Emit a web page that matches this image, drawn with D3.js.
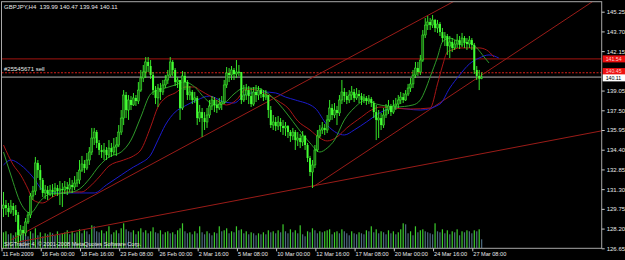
<!DOCTYPE html>
<html>
<head>
<meta charset="utf-8">
<script src="https://cdn.jsdelivr.net/npm/d3@7"></script>
<style>
  body { margin: 0; background: #000; }
  svg { display: block; font-family: "Liberation Sans", Arial, sans-serif; }
</style>
</head>
<body>
<div id="chart"></div>
<script>
// GBPJPY H4, 196 bars from 11 Feb 2009 to 27 Mar 2009 20:00
const firstOpen = 129.80;
const closes = [
  130.05,129.82,129.50,129.97,129.66,129.27,127.69,128.09,127.85,128.72,
  129.27,130.76,131.15,133.36,132.80,132.02,131.00,131.23,130.92,131.23,
  131.08,131.39,131.15,131.31,131.23,131.47,131.31,131.63,131.47,131.78,
  132.02,132.80,133.28,132.96,133.59,134.22,135.32,135.79,134.93,134.38,
  134.22,134.38,133.98,134.53,134.22,134.61,134.77,135.79,136.89,138.70,
  137.52,138.31,137.92,138.47,138.23,139.09,140.04,140.51,141.30,140.98,
  140.27,139.09,138.47,139.25,138.94,139.49,139.88,140.27,141.30,140.67,
  139.72,139.88,137.68,140.20,139.72,138.70,138.94,138.31,138.47,136.89,
  137.36,136.89,136.58,137.13,137.84,138.31,137.92,137.68,137.99,138.15,
  139.49,140.43,140.27,140.67,140.35,140.51,140.51,138.31,138.70,139.09,
  138.62,137.99,138.94,138.70,139.09,138.78,138.54,138.70,137.52,136.34,
  136.58,136.26,136.58,136.26,136.11,136.26,135.79,135.48,135.79,135.16,
  135.32,135.01,135.48,134.77,133.75,132.65,133.20,134.38,135.48,135.95,
  136.11,135.95,136.74,137.68,137.13,137.52,137.29,138.31,138.94,138.62,
  138.31,138.70,138.94,138.47,138.78,138.62,138.31,138.47,138.23,138.39,
  138.07,137.36,136.74,136.89,136.34,137.13,137.52,137.84,137.36,137.84,
  137.99,138.31,138.54,138.31,138.78,139.25,139.57,140.27,140.82,140.51,
  141.45,143.42,144.20,144.44,144.20,144.60,143.97,144.28,143.65,143.18,
  143.34,142.55,142.87,142.40,142.71,143.02,142.63,143.18,142.87,142.71,
  143.02,142.63,140.67,140.20,139.99,140.11
];
const highs = [
  131.08,130.45,130.21,130.45,130.21,130.05,129.50,128.48,128.40,129.03,
  129.50,131.00,131.55,133.83,133.59,133.20,132.18,131.63,131.55,131.63,
  131.70,131.78,131.63,131.94,131.78,131.94,131.86,132.18,132.02,132.33,
  132.65,133.59,133.91,133.59,134.14,134.61,136.11,136.11,135.95,135.16,
  134.77,134.93,134.61,135.16,134.93,135.32,135.40,136.34,137.52,139.09,
  138.94,138.70,138.62,138.86,138.70,139.72,140.67,141.06,141.69,141.69,
  141.45,140.51,139.41,139.57,139.64,139.88,140.27,140.67,141.69,141.45,
  140.82,140.12,139.88,140.59,140.51,139.88,139.41,139.09,138.94,138.62,
  137.92,137.68,137.36,137.68,138.31,138.62,138.54,138.31,138.47,138.62,
  139.88,140.90,140.82,140.98,140.82,141.45,141.06,140.51,139.49,139.57,
  139.41,139.25,139.33,139.49,139.41,139.25,139.09,139.09,138.70,137.84,
  137.13,136.97,137.05,136.89,136.74,136.58,136.34,135.95,136.11,135.95,
  135.79,135.64,135.87,135.56,134.93,133.91,133.59,134.77,135.95,136.34,
  136.58,136.42,137.13,138.31,137.99,138.07,137.84,138.70,139.88,139.25,
  138.94,139.09,139.41,139.17,139.25,139.09,138.86,138.78,138.62,138.70,
  138.54,138.23,137.92,137.52,137.29,137.68,137.99,138.31,137.99,138.31,
  138.47,138.70,138.94,138.86,139.09,139.57,140.04,140.67,141.30,141.30,
  141.85,143.81,144.75,144.91,144.75,144.99,144.68,144.60,144.44,143.97,
  143.65,143.50,143.34,143.18,143.02,143.50,143.34,143.58,143.34,143.18,
  143.34,143.18,142.79,140.98,140.67,140.47
];
const lows = [
  129.11,129.27,129.11,129.35,129.19,128.72,127.14,127.22,127.30,127.62,
  128.56,129.03,130.45,130.84,132.18,131.23,130.68,130.52,130.45,130.76,
  130.68,130.84,130.76,130.05,129.90,130.92,130.84,131.08,131.00,131.23,
  131.47,131.70,132.65,132.57,132.80,133.20,133.98,134.77,134.53,133.98,
  133.75,133.59,133.59,133.75,133.83,133.98,133.91,134.61,135.56,136.34,
  136.89,136.74,137.52,137.84,137.84,137.99,138.94,139.72,140.04,140.51,
  139.96,138.70,137.99,137.76,138.31,138.70,139.25,139.57,140.12,140.20,
  139.41,139.25,136.74,137.52,139.09,138.31,138.31,137.99,138.07,136.34,
  136.58,135.40,135.95,136.11,136.89,137.52,137.36,137.29,137.52,137.52,
  137.99,139.25,139.72,139.88,139.88,140.04,140.20,137.99,138.15,138.31,
  137.99,137.76,137.84,138.15,138.31,138.47,138.23,138.31,136.89,136.11,
  135.95,135.87,135.95,135.79,135.56,135.48,135.32,135.01,135.16,134.38,
  134.69,134.53,134.69,134.38,133.43,132.33,131.39,132.96,134.22,135.32,
  135.64,135.56,135.71,136.58,136.74,136.89,136.34,137.05,137.99,138.15,
  137.99,138.07,138.31,138.15,138.31,138.07,137.92,138.07,137.92,137.99,
  137.76,136.89,135.16,135.32,135.95,136.11,136.89,137.21,137.05,137.21,
  137.52,137.68,137.99,138.07,138.23,138.62,138.94,139.25,140.04,140.20,
  140.27,141.30,143.18,143.81,143.81,143.97,143.65,143.58,143.34,142.87,
  142.55,141.85,141.61,142.08,142.24,142.40,142.32,142.47,142.40,142.24,
  142.40,142.24,140.35,139.88,139.09,139.94
];
const volumes = [
  1600,1700,1400,1500,1300,1600,2300,1800,1500,1400,
  1200,1700,1500,2000,1300,1600,1200,1500,1400,1600,
  1500,1300,1700,1400,1500,1600,1800,1400,1700,1500,
  1600,1900,1500,1800,1700,1400,2300,2200,1700,1600,
  1800,1500,1700,2200,1400,1600,1800,1500,2000,2500,
  1900,1700,1600,1800,1400,1700,2000,1600,1800,1500,
  1700,2100,1600,1500,1800,1400,1600,1700,1500,1600,
  1400,1800,2000,2500,1700,1500,1600,1400,1700,1500,
  2200,1600,1400,1700,1500,1300,1600,1500,2200,1700,
  1800,2000,1500,1700,1600,2200,1800,1900,1500,1700,
  1400,1600,1500,1300,1500,1400,1600,1400,1800,1600,
  1700,1500,1800,1600,2400,1700,1500,1900,1600,1800,
  1500,2300,1400,1200,1700,1600,2000,1800,1500,1700,
  1600,1700,1800,1900,1400,1600,1700,1500,1900,1700,
  1500,1300,1700,1500,1400,1600,1500,1400,1800,1700,
  2200,1600,1900,1500,1700,1600,1400,1800,1500,1700,
  1400,1600,1900,2500,2400,1500,1700,1300,2200,1600,
  1800,1900,1700,1600,1500,1400,2500,1700,1600,1900,
  1500,1800,1400,1700,1600,1900,1300,1700,1600,1800,
  1700,1500,1800,1700,1900,900
];

// alligator-style moving averages (bar index, price)
const lipsBars   = [0,3,7,11,15,19,26,31,35,39,43,48,52,56,60,63,66,70,74,78,82,86,90,94,98,103,107,112,116,120,125,129,132,135,139,143,148,152,156,160,167,170,172,174,177,179,182,186,190,193,196,198];
const lipsPrices = [134.22,132.41,130.21,129.42,130.37,130.92,131.00,131.31,132.10,133.12,133.83,134.22,135.16,136.97,138.78,139.09,139.25,139.49,139.72,139.33,138.47,137.92,138.07,138.78,139.25,139.25,138.94,138.07,137.13,136.11,134.93,134.22,134.53,135.16,136.74,137.68,138.31,137.99,137.84,137.76,137.92,138.31,139.09,140.12,141.69,142.87,143.18,142.87,142.79,142.40,141.69,141.22];
const teethBars   = [0,4,7,10,12,16,20,26,32,35,39,43,49,53,56,60,63,66,70,74,78,80,85,91,95,99,103,107,112,116,120,125,129,132,136,140,146,150,154,159,166,174,177,179,181,183,186,190,194,197,200];
const teethPrices = [134.77,133.20,132.41,131.31,130.45,130.21,130.68,131.08,131.08,131.47,132.25,133.12,133.59,133.91,134.38,136.19,137.76,138.47,138.86,139.33,139.33,139.09,138.54,137.92,138.31,139.17,139.09,138.78,138.23,137.68,136.66,135.95,135.32,135.09,135.40,136.11,136.97,137.52,137.76,137.68,137.60,137.68,139.57,140.98,142.08,142.24,142.40,142.40,142.40,142.24,141.69];
const jawBars   = [0,3,7,12,16,20,26,31,37,42,48,53,56,60,63,66,70,74,79,84,90,94,99,106,111,115,119,127,132,136,139,143,148,154,159,170,178,182,186,190,194,198,202];
const jawPrices = [133.20,133.59,133.20,132.25,131.23,131.00,131.00,131.00,131.00,131.63,132.41,133.04,133.36,133.98,135.16,136.34,137.36,137.84,138.31,138.62,138.15,138.07,138.78,138.94,138.86,138.54,138.31,137.68,136.34,135.71,135.56,135.95,136.58,137.36,137.68,137.52,137.99,139.25,140.27,141.14,141.61,141.85,141.61];

// trend lines drawn on the chart: two anchors each (bar, price), extended right
const trendBars   = [[3, 185], [6, 126], [126, 180]];
const trendPrices = [[127.30, 146.20], [127.14, 131.55], [131.45, 138.35]];

// horizontal levels
const stopLevel = 141.54, orderLevel = 140.45, bidLevel = 140.11;
const orderName = "#25545671 sell";

const priceTicks = [145.25, 143.70, 142.15, 139.05, 137.50, 135.95, 134.40, 132.85, 131.30, 129.75, 128.20, 126.65];
const timeTickBars = [0, 16, 32, 48, 64, 80, 96, 112, 128, 144, 160, 176, 192];
const timeTickLabels = ["11 Feb 2009", "16 Feb 00:00", "18 Feb 16:00", "23 Feb 08:00", "26 Feb 00:00", "2 Mar 16:00",
  "5 Mar 08:00", "10 Mar 00:00", "12 Mar 16:00", "17 Mar 08:00", "20 Mar 00:00", "24 Mar 16:00", "27 Mar 08:00"];

const title = "GBPJPY,H4  139.99 140.47 139.94 140.11";
const copyright = "SIGTrader 4, \u00a9 2001-2008 MetaQuotes Software Corp.";

const width = 625, height = 260;
const plotLeft = 1.5, plotRight = 601.7, plotTop = 1.7, plotBottom = 248.3;

const svg = d3.select("#chart").append("svg")
  .attr("width", width).attr("height", height)
  .style("background", "#000");

const x = d3.scaleLinear().domain([0, 244]).range([3.5, 601.8]);
const y = d3.scaleLinear().domain([126.65, 145.25]).range([248.3, 11.7]);
const yVol = d3.scaleLinear().domain([0, 3000]).range([248.3, 218.3]);

svg.append("clipPath").attr("id", "plotClip")
  .append("rect").attr("x", plotLeft).attr("y", plotTop)
  .attr("width", plotRight - plotLeft).attr("height", plotBottom - plotTop);

const plot = svg.append("g").attr("clip-path", "url(#plotClip)");

// volumes
plot.append("g").selectAll("rect")
  .data(volumes)
  .enter().append("rect")
  .attr("x", (d, i) => x(i) - 0.6)
  .attr("width", 1.2)
  .attr("y", d => yVol(d))
  .attr("height", d => yVol(0) - yVol(d))
  .attr("fill", (d, i) => (i === 0 || d >= volumes[i - 1]) ? "#3ccc2c" : "#4d6a80");

// horizontal levels
plot.append("line").attr("x1", plotLeft).attr("x2", plotRight)
  .attr("y1", y(stopLevel)).attr("y2", y(stopLevel))
  .attr("stroke", "#a3140f").attr("stroke-width", 1);
plot.append("line").attr("x1", plotLeft).attr("x2", plotRight)
  .attr("y1", y(orderLevel)).attr("y2", y(orderLevel))
  .attr("stroke", "#d8201a").attr("stroke-width", 1).attr("stroke-dasharray", "2,1.5");
plot.append("line").attr("x1", plotLeft).attr("x2", plotRight)
  .attr("y1", y(bidLevel)).attr("y2", y(bidLevel))
  .attr("stroke", "#b0b0b0").attr("stroke-width", 1);

// trend lines
trendBars.forEach((b, k) => {
  const p = trendPrices[k];
  const slope = (p[1] - p[0]) / (b[1] - b[0]);
  const endBar = 250;
  plot.append("line")
    .attr("x1", x(b[0])).attr("y1", y(p[0]))
    .attr("x2", x(endBar)).attr("y2", y(p[0] + slope * (endBar - b[0])))
    .attr("stroke", "#9a1c18").attr("stroke-width", 1);
});

// moving averages
const maLine = d3.line()
  .x(d => x(d[0])).y(d => y(d[1]))
  .curve(d3.curveMonotoneX);
[[jawBars, jawPrices, "#1c1ccc"], [teethBars, teethPrices, "#a81616"], [lipsBars, lipsPrices, "#2f9a2a"]]
  .forEach(([bars, prices, col]) => {
    plot.append("path")
      .datum(bars.map((b, i) => [b, prices[i]]))
      .attr("fill", "none").attr("stroke", col).attr("stroke-width", 1)
      .attr("d", maLine);
  });

// candles
const candles = closes.map((c, i) => {
  const o = i === 0 ? firstOpen : closes[i - 1];
  return { i, o, c, h: Math.max(highs[i], o, c), l: Math.min(lows[i], o, c) };
});
const cg = plot.append("g");
cg.selectAll("line")
  .data(candles)
  .enter().append("line")
  .attr("x1", d => x(d.i)).attr("x2", d => x(d.i))
  .attr("y1", d => y(d.h)).attr("y2", d => y(d.l))
  .attr("stroke", "#3dff2e").attr("stroke-width", 0.9);
cg.selectAll("rect")
  .data(candles)
  .enter().append("rect")
  .attr("x", d => x(d.i) - 1)
  .attr("width", 2)
  .attr("y", d => y(Math.max(d.o, d.c)))
  .attr("height", d => Math.max(0.8, Math.abs(y(d.o) - y(d.c))))
  .attr("fill", d => d.c >= d.o ? "#1e6a16" : "#44ff33")
  .attr("stroke", d => d.c >= d.o ? "#3dff2e" : "none")
  .attr("stroke-width", 0.5);

// frame
svg.append("rect").attr("x", plotLeft).attr("y", plotTop)
  .attr("width", plotRight - plotLeft).attr("height", plotBottom - plotTop)
  .attr("fill", "none").attr("stroke", "#a8a8a8").attr("stroke-width", 1);

// price axis
const yAxis = svg.append("g")
  .attr("transform", `translate(${plotRight},0)`)
  .call(d3.axisRight(y).tickValues(priceTicks).tickSize(3).tickPadding(2).tickFormat(d3.format(".2f")));
yAxis.select(".domain").remove();
yAxis.selectAll("line").attr("stroke", "#c8c8c8");
yAxis.selectAll("text").attr("fill", "#e8e8e8").style("font-size", "6px").attr("font-family", null);

// time axis
const xAxis = svg.append("g")
  .attr("transform", `translate(0,${plotBottom})`)
  .call(d3.axisBottom(x).tickValues(timeTickBars).tickSize(3).tickPadding(1)
    .tickFormat((d, i) => timeTickLabels[i]));
xAxis.select(".domain").remove();
xAxis.selectAll("line").attr("stroke", "#c8c8c8").attr("transform", "translate(-2,0)");
xAxis.selectAll("text").attr("fill", "#e8e8e8").style("font-size", "5.6px")
  .attr("text-anchor", "start").attr("dx", -1.5).attr("font-family", null);

// price boxes on the right (the order box sits a little higher so the labels do not collide)
const boxes = [[stopLevel, "#ee1111", "#ffd0d0", 0], [orderLevel, "#ee1111", "#ffd0d0", -1.2], [bidLevel, "#ffffff", "#000000", 0.8]];
boxes.forEach(([p, bg, fg, shift]) => {
  svg.append("rect").attr("x", plotRight + 1).attr("y", y(p) - 3.5 + shift)
    .attr("width", width - plotRight - 1).attr("height", 7).attr("fill", bg);
  svg.append("text").attr("x", plotRight + 4).attr("y", y(p) + 1.8 + shift)
    .attr("fill", fg).style("font-size", "5.2px").text(d3.format(".2f")(p));
});

// texts
svg.append("text").attr("x", 4).attr("y", 8.6).attr("fill", "#e8e8e8")
  .style("font-size", "6px").style("white-space", "pre").text(title);
svg.append("text").attr("x", 4).attr("y", 71.3).attr("fill", "#e8e8e8")
  .style("font-size", "6px").text(orderName);
svg.append("text").attr("x", 4).attr("y", 245.8).attr("fill", "#e8e8e8")
  .style("font-size", "5.6px").text(copyright);
</script>
</body>
</html>
